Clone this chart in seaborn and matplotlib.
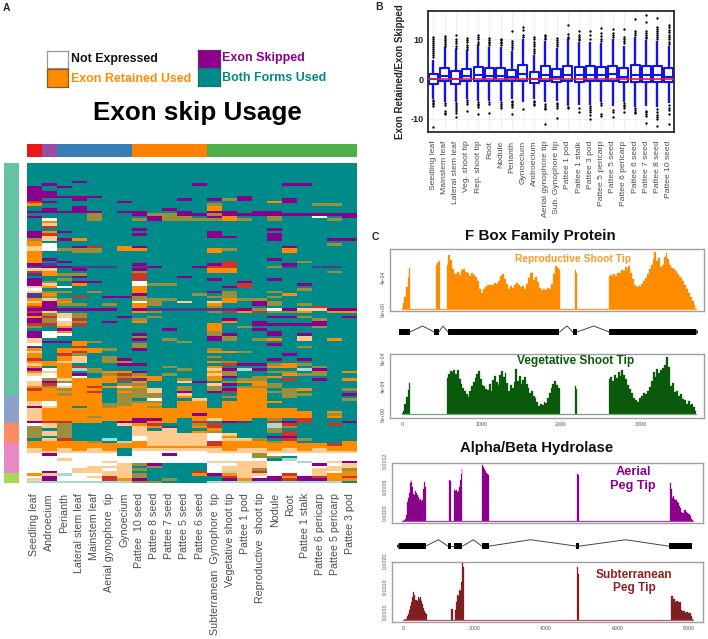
import numpy as np
import pandas as pd
import seaborn as sns
from matplotlib import pyplot as plt
from matplotlib.colors import ListedColormap

W, H = 708, 639

# panel A, one string per heatmap row, '.' is both forms used
usage_rows = [
    "..... ..... ..... ..... ..", "..... ..... ..... ..... ..", "..... ..... ..... ..... ..",
    "..... ..... ..... ..... ..", "..... ..... ..... ..... ..", "..... ..... ..... ..... ..",
    "..... ..... ..... ..... ..", "...P. ..... ..... ..... ..", ".P... ..... .P... ..PP. ..",
    "P.P.. ..... ..... ..... ..", "P.... ..... ..... ..... ..", "PP... ..... ..... ..... ..",
    "PP... ..... ..... ..... ..", "PPPPP ..... ....P ..... ..", "P..P. ..... P.PGP ..P.. ..",
    "RP... .P... ..... .OP.. ..", "O.... ..... ..G.. ....G G.", "...P. ..... ..O.. ..... ..",
    ".P.P. ....P ..O.. ..... ..", "PPPPP .PP.. P.PP. PP... ..", "....G ..PGG PPGPP PPPPP PP",
    "P...G ...PG G.PO. .G..W .P", ".W..G ..GPG GGGOG .G... G.", ".O... ..... ..... ..... ..",
    ".L... ..... ..... ..... ..", ".R... ..... ..... ..... ..", "..... ..P.. ..... .P... ..",
    "POP.. ..... ..P.. ..... ..", "PR... ..P.. ..P.. .P... ..", "PL... ..... ..PP. .P... ..",
    "GLPO. ..... ..... .P... PP", "O.... ..... ..... ..... ..", "OW... ..... ..... ..... G.",
    "LW.PR .OP.. ..... ..P.. ..", "LWGGG .OO.. ..OG. ..O.. ..", "O..GG ..... ..O.. ..O.. ..",
    "O.... ..... ..... ..... ..", "O.... ..... ..... ..... ..", "OP... ..... ..... .P... ..",
    "O.P.. ..... ...R. ...G. ..", "PB... ..P.. ..PR. ..P.. ..", "BPPBB B.BP. .PRR. .GB.B B.",
    "LL.P. ..P.. ..OO. ..... ..", "RO... ..G.. ..OO. ..... G.", "BOGG. ..R.. ..... ..... ..",
    "...P. ..R.. P.... ..... ..", "P.G.. ..R.. ..P.. .P... ..", "PG.PP ..W.. ....P ..... ..",
    "PL.O. ..WGG ....R ...P. ..", "LOW.. ..O.. ...PR ..... ..", "W.... ..O.. ..... ...G. ..",
    "LGG.G ..O.. ..PG. .G... ..", "BO... ..P.. .G.G. ..O.. ..", "BG.R. PPG.. ..GG. .G... ..",
    "OLG.. ..GGG ...OG G.... ..", "LPO.. ..WG. L.LO. PG... ..", "OPGG. G.OG. ..O.. PG.G. ..",
    "RP... ..O.. ..G.. ....R ..", "PPPPP P.PBB BBBBP GWPLL PP", "RL... ..OG. ..GRO RGGO. OO",
    "PGLG. ..... ..... ..... ..", "ORLG. .P.G. ..... .PPG. .P", "PGWR. ..G.. ...P. ....G ..",
    "PGLG. P.O.. ...O. P...P ..", "RRLR. ..... ..O.. PPPPP ..", "G.O.. ..... ..O.G ....G ..",
    "..P.. ....P ..O.. P.... ..", "PWO.. ..... ..G.. .P... ..", "PWW.. ..P.. ..GP. .P.P. ..",
    "PW... ..G.. ..PG. ...L. ..", "L.... ..P.G ..PG. GO.L. O.", "LPPOG ..... G.... ..... ..",
    "W..O. ..G.. ..... .P... ..", "B..R. ..G.. ..... ...G. ..", "O.OOO G.P.. ..G.. ..... ..",
    "L.ORO ..... ..OOG ..... ..", "O.RG. ..... ..... ..P.. ..", "O.OL. G.... ..G.. ..... ..",
    "R.OL. GP... ..... .P.P. ..", "OOLL. GG... ..OG. ..... ..", "LOO.. .PP.. ...RP PGOG. ..",
    "O.OR. ....G ..O.. .OO.G ..", "PWOCG ..... G.LPC P..CP ..", "OLO.G OOP.. ..OG. .GG.G .O",
    "LWOP. GRG.G ..LG. ..OGG ..", "WWOW. OGOO. ..OP. GO... ..", "WGLOO ORBO. G.O.G G.R.P .O",
    "LPGOO O.O.. LP.GO O.... ..", "LRWOO .GG.. ..LP. OG... ..", "OGLOR OLO.. G.G.G GG... ..",
    "ROGOO .GGL. G.GPO O.GO. .G", "OOOOR .OGL. P.PRO OGG.. ..", "OOGOO .GGG. L...O O.GG. .P",
    "OOOOO .GGG. O..GO O.G.. ..", "OOOOO .G.W. .L..O O.... .G", "LWOOO .GGG. OO.OO OO... ..",
    "LWOOO GGOO. OO.OO O.... ..", "PLO.O GOOG. OO.OO O.... ..", "LOOOO OOOOO OOOOO OOO.. ..",
    "LOOOO OOOOO OOOOO OOOO. O.", "LOOOO OOOOO OPOOO OOOO. G.", "LOOOG OOOOO OOOOO OOOO. O.",
    "LOOOO OOPPO .OLOO .G.R. ..", "PRROO .PPOO .R.PB .RPR. .P", "WLG.. .LOR. .GR.. .CR.. R.",
    "GLG.. ..LOB .OR.. .CG.. ..", "G.G.. ..L.L ..O.. .G... ..", "GLG.. ..LLL .OG.. .GR.. ..",
    "GLG.. ..LLL LLWL. ..R.. ..", "G.G.. ..WLL LLWO. .PP.. ..", ".LR.. C.WLL LLWLL G.RG. ..",
    "OOOOG .COLL LLROO OGO.. .O", "OOOOO OOOLL LLROO OOOOO RO", "OOOOO OOOOO OOOOO OOOOO OO",
    "LOLOL O.LLL LLLOL LOLOL OO", "LLLLL L.WWW WWLLL LLLLL LL", "WPWWW W.WWP WWWWW GWWWW WW",
    "WWWWW WWWWW WWWWW GG.WW WW", "WWLWW WWWWW WWWWW W.CWW WW", "WWWWW LWWWW WWLLL LWWCW LP",
    "WWWWW WLGP. ..WWL LWWWP WL", "WWWWL LL.G. ..WLL LWWWW LL", "WWWLL WLG.. ..WLL GWWWL LG",
    "WPWLL LL... .RWCL RWWWL WO", "OLCWW LLG.. .OPOL LWRWL OO", "WPWWL RLG.. ...RL WPOPR OR",
    "LPWWW ROP.G ...PO PPRPP OO", "CCCCC CCGG. ..CCC CCCCC C.",
]
usage_codes = {'.': 0, 'P': 1, 'O': 2, 'W': 3, 'L': 4, 'G': 5, 'R': 6, 'B': 7, 'C': 8}
usage_colors = ['#008B8B', '#8B008B', '#FF8C00', '#FFFFFF', '#FFCB8E', '#9A8F3C', '#C9372C', '#4A3F8F', '#A6DCCF']
usage_tissues = ['Seedling leaf', 'Androecium', 'Perianth', 'Lateral stem leaf', 'Mainstem leaf',
                 'Aerial gynophore  tip', 'Gynoecium', 'Pattee  10 seed', 'Pattee 8 seed', 'Pattee 7 seed',
                 'Pattee 5 seed', 'Pattee 6 seed', 'Subterranean  Gynophore  tip', 'Vegetative shoot tip',
                 'Pattee 1 pod', 'Reproductive  shoot tip', 'Nodule', 'Root', 'Pattee 1 stalk',
                 'Pattee 6 pericarp', 'Pattee 5 pericarp', 'Pattee 3 pod']
top_groups = [0, 1, 2, 2, 2, 2, 2, 3, 3, 3, 3, 3, 4, 4, 4, 4, 4, 4, 4, 4, 4, 4]
top_colors = ['#E41A1C', '#984EA3', '#377EB8', '#FF7F00', '#4DAF4A']
side_counts = [93, 11, 8, 12, 4]
side_colors = ['#66C2A5', '#8DA0CB', '#FC8D62', '#E78AC3', '#A6D854']

# panel B, five number summaries and outliers per tissue
box_tissues = ['Seedling leaf', 'Mainstem leaf', 'Lateral stem leaf', 'Veg. shoot tip', 'Rep. shoot tip', 'Root',
               'Nodule', 'Perianth', 'Gynoecium', 'Androecium', 'Aerial gynophore tip', 'Sub. Gynophore tip',
               'Pattee 1 pod', 'Pattee 1 stalk', 'Pattee 3 pod', 'Pattee 5 pericarp', 'Pattee 5 seed',
               'Pattee 6 pericarp', 'Pattee 6 seed', 'Pattee 7 seed', 'Pattee 8 seed', 'Pattee 10 seed']
box_q1 = [-1.2, -0.6, -1.2, -0.6, -0.6, -0.6, -0.6, -0.6, -0.4, -0.9, -0.6, -0.8, -0.6, -0.7, -0.6, -0.6, -0.6, -0.7, -0.7, -0.7, -0.8, -0.8]
box_med = [0.0, 0.7, 0.0, 0.8, 1.0, 0.8, 0.8, 0.4, 1.3, 0.1, 1.0, 0.5, 1.1, 1.0, 1.0, 1.0, 1.2, 0.6, 1.1, 1.0, 1.0, 0.6]
box_q3 = [1.3, 2.9, 2.1, 2.5, 3.0, 2.7, 2.8, 2.2, 3.6, 1.8, 3.3, 2.5, 3.4, 3.1, 3.3, 3.1, 3.3, 2.7, 3.6, 3.4, 3.3, 2.7]
box_low = [-4.9, -5.7, -5.8, -5.0, -5.5, -5.4, -5.5, -5.0, -5.8, -5.0, -5.7, -5.5, -6.8, -6.5, -6.5, -5.8, -6.7, -5.8, -7.0, -6.8, -7.0, -6.0]
box_high = [4.8, 8.0, 7.5, 7.3, 8.5, 8.0, 8.0, 7.0, 10.0, 6.0, 9.5, 7.8, 10.0, 9.3, 9.4, 9.0, 10.0, 8.2, 10.5, 9.8, 9.5, 8.2]
box_fliers = [
    [10.5, 10, 9.5, 9, 8.5, 8, 7.5, 7, 6.5, 6, 5.5, -5.2, -5.6, -6, -6.4, -6.9, -12],
    [10.8, 10.3, 9.8, 9.3, 8.8, 8.4, -6, -6.5, -8, -8.5, -8.9],
    [11, 10.2, 9.6, 9, 8.4, 7.9, -6.1, -6.5, -7, -7.5, -8, -8.6, -9.5],
    [10.4, 9.8, 9.2, 8.6, 8, 7.6, -5.3, -5.7, -6.2, -8.1],
    [11.2, 10.6, 10, 9.4, 8.9, -5.8, -6.2, -6.6, -7, -8.8],
    [10.3, 9.9, 9.4, 9, 8.5, -5.8, -6.2, -8.6],
    [10.2, 9.8, 9.4, 9, 8.6, -5.9, -6.3, -6.7, -7.3],
    [12, 9.5, 9, 8.5, 8, 7.5, -5.4, -5.8, -6.2, -6.6, -7, -8.8],
    [13, 12.3, 11, 10.5, -7.5],
    [10.7, 10, 9.4, 8.8, 8.2, 7.6, 7, 6.5, -5.4, -5.8, -6.2, -6.6],
    [11.2, 10.8, 10.4, 10, -6.4, -6.9, -7.3, -7.6, -11.2],
    [10.4, 9.9, 9.4, 8.9, 8.4, -6, -6.4, -6.9, -7.3, -9.8],
    [13.5, 11.3, 10.7, 10.3, -7, -7.3],
    [12, 11, 10.6, 10.2, 9.8, -7.2, -8.2],
    [12, 11, 10.2, -6.8, -7.3, -7.8, -8.3, -9, -10],
    [12.8, 11.6, 10.8, 10.2, 9.6, -6.1, -6.5, -8.8, -9.2],
    [12.6, 11.6, 11.1, 10.6, -7.7, -8.3, -9.5],
    [12.5, 10.6, 10.1, 9.6, 9, -6.1, -6.5, -6.9, -7.3, -8.3],
    [15, 12.2, 11.7, 11.2, -7.4, -7.8, -8.2, -8.6],
    [16, 14.3, 12.1, 11.6, 11.2, 10.7, 10.3, -8, -8.4, -8.8, -9.2, -11],
    [15.4, 13, 12.6, 12.1, 11.6, 11.1, 10.6, 10.1, -7.6, -8.4, -9, -9.5, -10, -11.8],
    [13.6, 13, 12.4, 11.8, 11.2, 10.6, 10, 9.4, 8.9, -6.6, -7.2, -7.8, -8.8, -11.2],
]

# panel C, coverage per exon in units of 1e-4
repro_starts = [0, 430, 570, 2170, 2600]
repro_ends = [100, 480, 1990, 2200, 3700]
repro_cov = [
    [0.2, 0.8, 1.6, 2.8, 4.0, 5.2],
    [5.5, 5.8, 5.9, 6.0],
    [5.5, 6.8, 6.2, 5.0, 4.4, 4.7, 4.3, 4.9, 5.1, 4.7, 4.5, 4.2, 4.5, 4.3, 4.0, 3.5, 2.6, 2.1, 2.5, 2.8, 3.0, 3.1,
     3.0, 3.3, 3.2, 3.6, 4.2, 4.4, 3.8, 3.2, 2.5, 2.9, 2.7, 3.1, 3.3, 3.0, 2.8, 2.9, 2.6, 3.2, 3.9, 4.5, 3.7, 4.1,
     3.4, 2.7, 2.4, 2.5, 2.4, 2.7, 2.6, 3.2, 4.4, 5.4, 5.2, 4.9],
    [4.9, 4.5],
    [4.2, 4.3, 4.0, 4.4, 4.2, 4.6, 4.5, 4.9, 4.8, 5.3, 5.1, 5.4, 4.5, 3.8, 3.0, 2.8, 2.9, 2.8, 3.2, 3.5, 3.9, 4.4,
     5.0, 5.6, 6.3, 7.2, 6.0, 6.4, 5.3, 5.6, 6.6, 7.0, 6.3, 5.6, 5.2, 5.1, 4.8, 4.4, 4.1, 3.9, 3.6, 3.1, 2.5, 2.0,
     1.6, 1.0, 0.5, 0.1],
]
veg_starts = [0, 570, 2170, 2600]
veg_ends = [100, 1990, 2200, 3700]
veg_cov = [
    [0.2, 0.5, 1.5, 2.5, 3.5, 4.5],
    [5.2, 5.8, 6.2, 6.0, 6.3, 5.8, 6.4, 5.0, 4.3, 3.8, 3.4, 2.9, 2.5, 3.3, 4.0, 4.6, 5.2, 5.8, 6.2, 5.0, 4.2, 4.0,
     3.6, 3.5, 4.3, 3.4, 4.9, 5.5, 4.7, 4.2, 5.6, 6.2, 5.4, 5.9, 4.5, 3.4, 4.2, 3.8, 4.6, 6.5, 4.8, 5.5, 4.3, 4.9,
     5.4, 4.4, 3.8, 3.1, 3.4, 2.6, 2.4, 1.7, 1.2, 1.5, 1.3, 1.8, 1.6, 2.4, 3.0, 3.8, 4.3, 4.8, 4.2, 3.8, 3.7],
    [4.1, 3.6],
    [5.0, 5.4, 4.8, 5.6, 5.2, 6.0, 5.5, 6.3, 5.7, 5.0, 4.2, 3.6, 3.1, 2.4, 2.0, 1.8, 2.3, 2.6, 3.0, 2.9, 3.4, 3.9,
     4.8, 6.0, 5.4, 6.5, 5.9, 6.3, 6.6, 7.0, 8.2, 6.8, 4.0, 4.5, 3.2, 3.4, 2.6, 2.9, 2.2, 2.0, 1.5, 1.9, 1.4, 1.5,
     1.1, 0.5],
]
aerial_starts = [30, 1300, 1440, 2230, 4870, 7470]
aerial_ends = [650, 1370, 1680, 2420, 4920, 8100]
aerial_cov = [
    [0.1, 0.3, 0.5, 0.8, 1.5, 4.5, 5.4, 6.5, 8.8, 9.5, 9.0, 7.8, 6.4, 6.0, 6.9, 6.6, 6.4, 6.0, 5.5, 5.0, 5.2, 4.6,
     4.8, 5.0, 7.5, 9.0, 8.0],
    [9.5, 9.2, 8.5],
    [7.0, 7.2, 7.0, 7.1, 6.8, 7.0, 8.0, 9.5, 11.0, 12.0],
    [13.0, 12.6, 12.0, 11.6, 11.2, 11.0, 10.7],
    [11.0, 10.6],
    [8.8, 7.5, 5.3, 5.8, 5.2, 4.9, 4.5, 4.2, 3.6, 3.0, 2.2, 2.0, 2.6, 2.7, 2.2, 2.0, 1.6, 1.2, 0.6, 0.4],
]
sub_starts = [30, 1340, 1460, 4870, 7500]
sub_ends = [650, 1400, 1700, 4920, 8100]
sub_cov = [
    [0.2, 0.4, 0.6, 1.5, 2.5, 4.0, 5.5, 7.0, 9.0, 11.0, 10.0, 8.0, 7.5, 9.0, 8.5, 9.0, 7.5, 6.5, 5.0, 3.5, 3.0, 2.5],
    [4.5, 4.6, 4.3],
    [4.0, 7.0, 10.0, 9.5, 12.0, 11.5, 15.0, 22.5, 21.0, 20.0],
    [21.0, 18.0, 15.0],
    [9.5, 9.4, 8.5, 7.3, 7.6, 7.0, 7.3, 4.0, 3.5, 3.8, 3.0, 3.2, 2.7, 2.9, 1.5, 0.7],
]
fbox_gene = [(-40, 100), (405, 465), (580, 1980), (2145, 2200), (2605, 3700)]
fbox_peaks = [260, 515, 2075, 2410]
hydro_gene = [(-100, 650), (1275, 1360), (1440, 1680), (2220, 2420), (4860, 4940), (7430, 8080)]
hydro_peaks = [1010, 0, 1980, 3580, 6230]

sns.set_theme(style='white')
plt.rcParams['font.family'] = ['Liberation Sans', 'DejaVu Sans']
fig = plt.figure(figsize=(W / 100, H / 100), dpi=100)


def place(x0, y0, x1, y1):
    '''axes from pixel box of the picture'''
    return fig.add_axes([x0 / W, 1 - y1 / H, (x1 - x0) / W, (y1 - y0) / H])


def label(x, y, text, **kw):
    fig.text(x / W, 1 - y / H, text, ha=kw.pop('ha', 'center'), va='center', **kw)


# ---- panel A ----
label(3, 8, 'A', ha='left', fontsize=7.5, fontweight='bold')
label(197, 113, 'Exon skip Usage', fontsize=18.7, fontweight='bold', color='black')
legend_boxes = [(47, 51, 68, 68, '#FFFFFF', '#999999'), (47, 69, 68, 87, '#FF8C00', '#8A5A20'),
                (198, 50, 220, 68, '#8B008B', '#6A2A6A'), (198, 68, 220, 86, '#008B8B', '#2A6A6A')]
for x0, y0, x1, y1, face, edge in legend_boxes:
    box = place(x0, y0, x1, y1)
    box.set_xticks([])
    box.set_yticks([])
    box.set_facecolor(face)
    for s in box.spines.values():
        s.set_color(edge)
        s.set_linewidth(0.9)
label(71, 59, 'Not Expressed', ha='left', fontsize=8.9, fontweight='bold', color='#111111')
label(71, 78.5, 'Exon Retained Used', ha='left', fontsize=8.9, fontweight='bold', color='#FF8C00')
label(222, 58, 'Exon Skipped', ha='left', fontsize=9, fontweight='bold', color='#8B008B')
label(221.5, 78, 'Both Forms Used', ha='left', fontsize=9, fontweight='bold', color='#008B8B')

usage = pd.DataFrame([[usage_codes[c] for c in r.replace(' ', '').ljust(22, '.')[:22]] for r in usage_rows])
ax = place(26.7, 163, 357.3, 483.3)
sns.heatmap(usage, ax=ax, cmap=ListedColormap(usage_colors), vmin=-0.5, vmax=8.5, cbar=False,
            xticklabels=usage_tissues, yticklabels=False)
ax.tick_params(axis='x', length=0, pad=7, labelsize=7.7, labelcolor='#4D4D4D', labelrotation=90)

ax = place(26.7, 144, 357.3, 157.3)
sns.heatmap(pd.DataFrame([top_groups]), ax=ax, cmap=ListedColormap(top_colors), cbar=False,
            xticklabels=False, yticklabels=False)

side_groups = [i for i, n in enumerate(side_counts) for _ in range(n)]
ax = place(4, 163, 19.3, 483)
sns.heatmap(pd.DataFrame({'g': side_groups}), ax=ax, cmap=ListedColormap(side_colors), cbar=False,
            xticklabels=False, yticklabels=False)

# ---- panel B ----
label(375, 7, 'B', ha='left', fontsize=7.5, fontweight='bold')
ax = place(427.7, 10.7, 674.3, 132.3)
summary = pd.DataFrame([(t, v) for t, a, b, c, d, e in zip(box_tissues, box_low, box_q1, box_med, box_q3, box_high)
                        for v in (a, b, c, d, e)], columns=['tissue', 'value'])
outliers = pd.DataFrame([(t, v) for t, vals in zip(box_tissues, box_fliers) for v in vals], columns=['tissue', 'value'])
sns.stripplot(data=outliers, x='tissue', y='value', ax=ax, order=box_tissues, jitter=False, color='black', size=1.7)
sns.boxplot(data=summary, x='tissue', y='value', ax=ax, order=box_tissues, whis=(0, 100), showfliers=False,
            showcaps=False, fill=False, color='#1414E6', width=0.8, linewidth=1.5,
            whiskerprops={'linewidth': 1.7})
ax.axhline(0, color='#E0204A', lw=1.2, zorder=5)
ax.set_xlim(-0.5, 21.5)
ax.set_ylim(-13.4, 17.2)
ax.set_yticks([-10, 0, 10])
ax.set_yticklabels(['-10', '0', '10'])
ax.grid(True, color='#EDEDED', lw=0.6)
ax.set_axisbelow(True)
ax.set_xlabel('')
ax.set_ylabel('Exon Retained/Exon Skipped', fontsize=7, fontweight='bold')
ax.yaxis.set_label_coords(-0.092, 0.5)
ax.tick_params(axis='y', length=2, width=0.8, pad=1, labelsize=6.5, color='#222222')
for t in ax.get_yticklabels():
    t.set_fontweight('bold')
ax.tick_params(axis='x', length=0, pad=6, labelsize=6.1, labelcolor='#4D4D4D', labelrotation=90)
for s in ax.spines.values():
    s.set_color('#2A2A2A')
    s.set_linewidth(1.3)


# ---- panel C ----
def track(box, xlim, ylim, starts, ends, cov, color, base, length, xticks, yticks, ylabels, xlabels=True, va='center'):
    ax = place(*box)
    sns.lineplot(x=[0, length], y=[0, 0], ax=ax, color=base, lw=0.9)
    for start, end, vals in zip(starts, ends, cov):
        xs = np.linspace(start, end, len(vals))
        ys = np.array(vals) * 1e-4
        ax.fill_between(xs, 0, ys, color=color, lw=0.2, step='mid')
    ax.set_xlim(*xlim)
    ax.set_ylim(*ylim)
    ax.set_xticks(xticks)
    ax.set_yticks(yticks)
    if xlabels:
        ax.set_xticklabels([str(t) for t in xticks])
    else:
        ax.set_xticklabels([])
    ax.set_yticklabels([ylabels.get(t, '') for t in yticks], rotation=90, va=va)
    ax.tick_params(length=2, width=0.5, pad=1, labelsize=3.8, color='#888888', labelcolor='#555555')
    for s in ax.spines.values():
        s.set_color('#A0A0A0')
        s.set_linewidth(1)
    return ax


def gene(box, xlim, exons, peaks, arrow_left=False):
    ax = place(*box)
    for i in range(len(exons) - 1):
        a, b = exons[i][1], exons[i + 1][0]
        if peaks[i]:
            sns.lineplot(x=[a, peaks[i], b], y=[0, 0.6, 0], ax=ax, color='#444444', lw=0.7, sort=False)
        else:
            sns.lineplot(x=[a, b], y=[0, 0], ax=ax, color='#444444', lw=0.7)
    for start, end in exons:
        ax.barh(0, end - start, left=start, height=0.6, color='black', lw=0)
    tip = (xlim[1] - xlim[0]) * 0.006
    if arrow_left:
        ax.fill([exons[0][0], exons[0][0] - tip, exons[0][0]], [-0.3, 0, 0.3], color='black', lw=0)
    else:
        ax.fill([exons[-1][1], exons[-1][1] + tip, exons[-1][1]], [-0.3, 0, 0.3], color='black', lw=0)
    ax.set_xlim(*xlim)
    ax.set_ylim(-0.6, 1.0)
    ax.axis('off')


label(372, 237, 'C', ha='left', fontsize=7.5, fontweight='bold')
label(540, 236, 'F Box Family Protein', fontsize=10.9, fontweight='bold', color='#111111')
label(537, 448, 'Alpha/Beta Hydrolase', fontsize=10.7, fontweight='bold', color='#111111')

fbox_lim = (-150, 3796)
track((390, 249.3, 704, 311.3), fbox_lim, (-0.25e-4, 7.5e-4), repro_starts, repro_ends, repro_cov,
      '#FF8C00', '#FFA030', 3700, [0, 1000, 2000, 3000], [0, 2e-4, 4e-4, 6e-4], {0: '0e+00', 4e-4: '4e-04'}, xlabels=False)
gene((390, 322, 704, 338), fbox_lim, fbox_gene, fbox_peaks)
track((390, 354.3, 704, 418.3), fbox_lim, (-0.57e-4, 8.6e-4), veg_starts, veg_ends, veg_cov,
      '#0B5A0B', '#6FA96F', 3700, [0, 1000, 2000, 3000], [0, 4e-4, 8e-4], {0: '0e+00', 4e-4: '4e-04', 8e-4: '8e-04'})
label(573, 259, 'Reproductive Shoot Tip', fontsize=7.4, fontweight='bold', color='#FF9A26')
label(575.5, 361.5, 'Vegetative Shoot Tip', fontsize=8.6, fontweight='bold', color='#0B5A0B')

hydro_lim = (-279, 8400)
track((392.3, 462.7, 703.3, 523.3), hydro_lim, (-0.46e-4, 13.5e-4), aerial_starts, aerial_ends, aerial_cov,
      '#8B008B', '#B040B0', 8100, [0, 2000, 4000, 6000, 8000], [0, 2e-4, 4e-4, 6e-4, 8e-4, 10e-4, 12e-4],
      {0: '0.0000', 6e-4: '0.0006', 12e-4: '0.0012'}, xlabels=False, va='bottom')
gene((392.3, 535.5, 703.3, 552.5), hydro_lim, hydro_gene, hydro_peaks, arrow_left=True)
track((392.3, 561.7, 703.3, 622.3), (-308, 8395), (-0.78e-4, 23e-4), sub_starts, sub_ends, sub_cov,
      '#7F1F1F', '#B06060', 8100, [0, 2000, 4000, 6000, 8000], [0, 5e-4, 10e-4, 15e-4, 20e-4],
      {0: '0.0000', 10e-4: '0.0010', 20e-4: '0.0020'}, va='bottom')
label(633, 479, 'Aerial\nPeg Tip', fontsize=9.2, fontweight='bold', color='#8B008B', linespacing=1.2)
label(634, 581.5, 'Subterranean\nPeg Tip', fontsize=8.6, fontweight='bold', color='#8B2323', linespacing=1.2)

plt.savefig('out.png', dpi=100)
